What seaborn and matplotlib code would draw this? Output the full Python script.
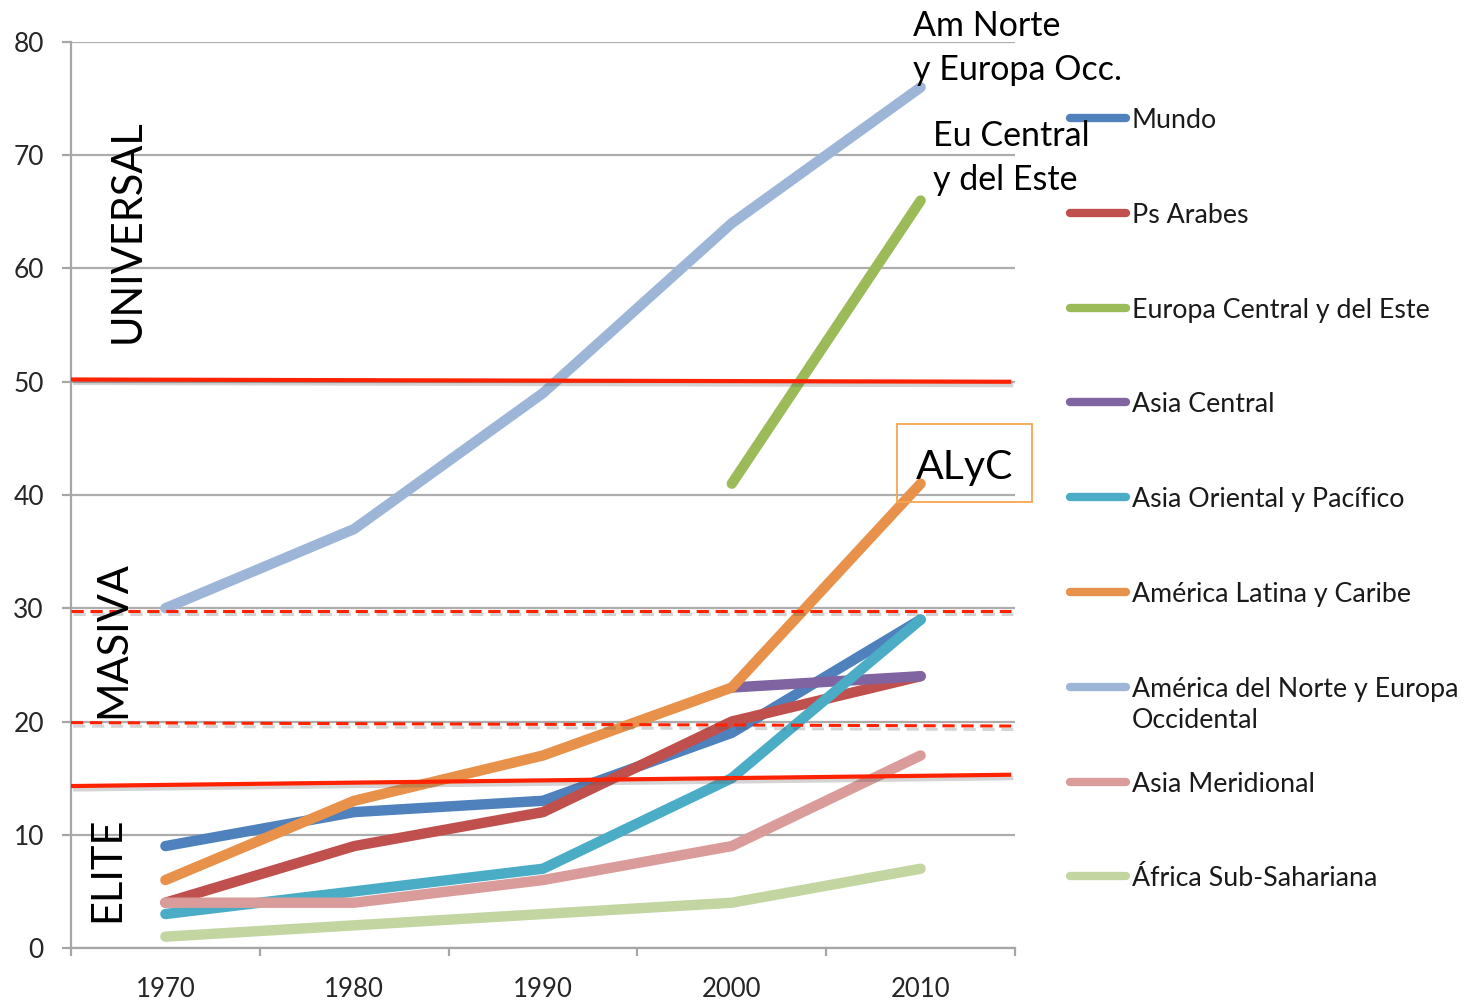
import numpy as np
import pandas as pd
import matplotlib
matplotlib.use("Agg")
import matplotlib.pyplot as plt
import matplotlib.patheffects as pe
from matplotlib.lines import Line2D
from matplotlib.patches import Rectangle
import seaborn as sns

# Datos (tasa bruta de matrícula terciaria, %)
anios = ["1970", "1980", "1990", "2000", "2010"]
mundo = [9, 12, 13, 19, 29]
ps_arabes = [4, 9, 12, 20, 24]
europa_central = [np.nan, np.nan, np.nan, 41, 66]
asia_central = [np.nan, np.nan, np.nan, 23, 24]
asia_oriental = [3, 5, 7, 15, 29]
america_latina = [6, 13, 17, 23, 41]
am_norte_europa = [30, 37, 49, 64, 76]
asia_meridional = [4, 4, 6, 9, 17]
africa_sub = [1, 2, 3, 4, 7]

series = ["Mundo", "Ps Arabes", "Europa Central y del Este", "Asia Central",
          "Asia Oriental y Pacífico", "América Latina y Caribe",
          "América del Norte y Europa\nOccidental", "Asia Meridional",
          "África Sub-Sahariana"]
valores = [mundo, ps_arabes, europa_central, asia_central, asia_oriental,
           america_latina, am_norte_europa, asia_meridional, africa_sub]
colores = ["#4F81BD", "#C0504D", "#9BBB59", "#8064A2", "#4BACC6",
           "#E8914A", "#9DB6D8", "#D99C9B", "#C3D6A2"]

# Umbrales de Trow (elite / masiva / universal), trazados a mano en el original
umbral_solido = [(50.2, 50.0), (14.3, 15.3)]
umbral_discontinuo = [(29.8, 29.8), (19.9, 19.6)]

W, H = 1464, 1002


def fx(x):
    return x / W


def fy(y):
    return 1 - y / H


filas = []
for nombre, vals in zip(series, valores):
    for i, v in enumerate(vals):
        filas.append({"serie": nombre, "pos": i, "valor": v})
df = pd.DataFrame(filas).dropna()

sns.set_theme(style="white")
plt.rcParams["font.family"] = ["Lato", "DejaVu Sans"]

fig = plt.figure(figsize=(W / 100, H / 100), dpi=100)
ax = fig.add_axes([fx(71), fy(948), (1015 - 71) / W, (948 - 42) / H])

sns.lineplot(data=df, x="pos", y="valor", hue="serie", hue_order=series,
             palette=colores, linewidth=7.5, legend=False, errorbar=None,
             sort=False, ax=ax, zorder=3)
for ln in ax.lines:
    ln.set_solid_capstyle("round")
    ln.set_solid_joinstyle("round")

# Ejes estilo Excel
ax.set_xlim(-0.5, 4.5)
ax.set_ylim(0, 80)
ax.set_yticks(range(0, 81, 10))
ax.yaxis.grid(True, color="#ADADAD", linewidth=1.6)
ax.set_axisbelow(True)
ax.set_xticks(np.arange(-0.5, 4.6, 1))
ax.set_xticklabels([])
ax.set_xticks(range(5), minor=True)
ax.set_xticklabels(anios, minor=True)
ax.set_xlabel("")
ax.set_ylabel("")
for s in ["top", "right"]:
    ax.spines[s].set_visible(False)
for s in ["left", "bottom"]:
    ax.spines[s].set_color("#A6A6A6")
    ax.spines[s].set_linewidth(1.6)
ax.tick_params(axis="x", which="major", direction="out", length=6, width=1.6,
               color="#A6A6A6", bottom=True)
ax.tick_params(axis="x", which="minor", length=0, pad=21, labelsize=18.5,
               labelcolor="#262626")
ax.tick_params(axis="y", direction="out", length=6.5, width=1.6,
               color="#A6A6A6", left=True, pad=13, labelsize=19,
               labelcolor="#262626")

# Líneas rojas de umbral con sombra
sombra = [pe.SimpleLineShadow(offset=(1.5, -2.5), alpha=0.25, shadow_color="#555555"),
          pe.Normal()]
for y0, y1 in umbral_solido:
    ax.plot([-0.5, 4.48], [y0, y1], color="#FF2200", linewidth=3, zorder=4,
            solid_capstyle="butt", path_effects=sombra)
for y0, y1 in umbral_discontinuo:
    ax.plot([-0.5, 4.48], [y0, y1], color="#FF2200", linewidth=2.2, zorder=4,
            linestyle=(0, (4, 2.2)), path_effects=sombra)

# Etiquetas de fases
fig.text(fx(128), fy(231), "UNIVERSAL", rotation=90, ha="center", va="center",
         fontsize=30, color="black")
fig.text(fx(113), fy(640), "MASIVA", rotation=90, ha="center", va="center",
         fontsize=30, color="black")
fig.text(fx(107), fy(869), "ELITE", rotation=90, ha="center", va="center",
         fontsize=30, color="black")

# Anotaciones
fig.text(fx(913), fy(10), "Am Norte\ny Europa Occ.", ha="left", va="top",
         fontsize=24.5, linespacing=1.45, color="black")
fig.text(fx(933), fy(120), "Eu Central\ny del Este", ha="left", va="top",
         fontsize=24.5, linespacing=1.45, color="black")
fig.add_artist(Rectangle((fx(897), fy(502)), (1032 - 897) / W, (502 - 424) / H,
                         transform=fig.transFigure, fill=False,
                         edgecolor="#F9A54F", linewidth=1.3))
fig.text(fx(965), fy(467), "ALyC", ha="center", va="center", fontsize=29.5,
         color="black")

# Leyenda manual (espaciado uniforme como en Excel)
for i, (nombre, col) in enumerate(zip(series, colores)):
    y = 118 + i * 94.8
    fig.add_artist(Line2D([fx(1070), fx(1126)], [fy(y), fy(y)], color=col,
                          linewidth=6, solid_capstyle="round",
                          transform=fig.transFigure))
    fig.text(fx(1132), fy(y - 10), nombre, ha="left", va="top", fontsize=19.3,
             linespacing=1.3, color="#1a1a1a")

fig.savefig("out.png", dpi=100)
